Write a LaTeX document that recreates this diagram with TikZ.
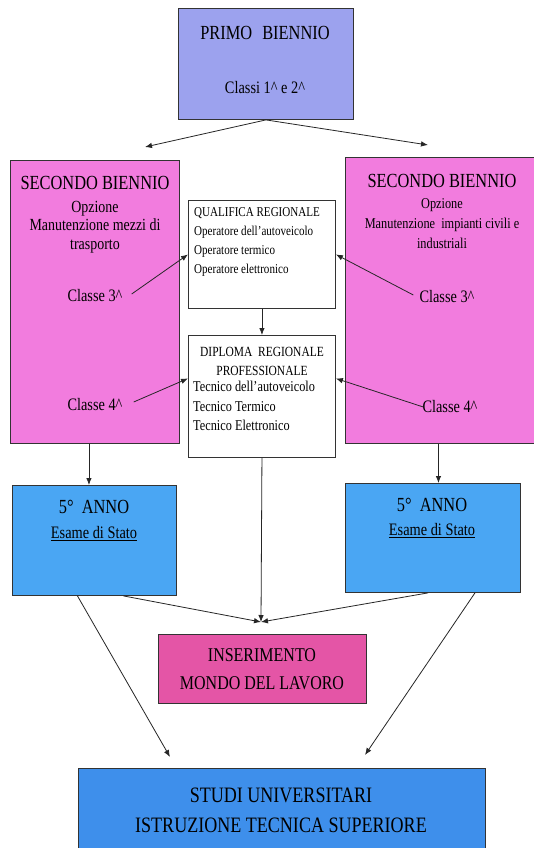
\documentclass[tikz,border=0pt]{standalone}
\usepackage{fontspec}
\setmainfont{Liberation Serif}
\newfontfamily\cond[FakeStretch=0.82]{Liberation Serif}
\usetikzlibrary{arrows.meta,positioning}
\definecolor{lav}{HTML}{9CA2EE}
\definecolor{pinkb}{HTML}{F27CDE}
\definecolor{bluea}{HTML}{4AA6F3}
\definecolor{pinki}{HTML}{E455A6}
\definecolor{blues}{HTML}{3E8FEB}
\definecolor{edge}{HTML}{333333}
\newcommand{\fs}[2]{\fontsize{#1}{#2}\selectfont}
\tikzset{
  box/.style={draw=edge,line width=0.9pt,anchor=north west,inner sep=0pt},
  txt/.style={inner sep=1pt,text=black},
  fz/.style 2 args={font=\cond\fs{#1}{#2}},
  arr/.style={draw=black!85,line width=0.8pt,-{Latex[length=7pt,width=5.5pt]}},
}
\begin{document}
\begin{tikzpicture}[x=1pt,y=-1pt]
\useasboundingbox[fill=white] (0,0) rectangle (533,848);
% boxes
\node[box,fill=lav,minimum width=175,minimum height=111] (prim) at (178,8) {};
\node[box,fill=pinkb,minimum width=169,minimum height=283] (sbl) at (10,160) {};
\node[box,fill=pinkb,minimum width=190,minimum height=286] (sbr) at (345,157) {};
\node[box,fill=white,minimum width=147,minimum height=108] (qual) at (188,200) {};
\node[box,fill=white,minimum width=147,minimum height=122] (dip) at (188,335) {};
\node[box,fill=bluea,minimum width=164,minimum height=110] (al) at (12,485) {};
\node[box,fill=bluea,minimum width=175,minimum height=109] (ar) at (345,483) {};
\node[box,fill=pinki,minimum width=208,minimum height=69] (ins) at (158,634) {};
\node[box,fill=blues,minimum width=407,minimum height=84] (stu) at (78,768) {};
% texts
\node[txt,fz={20}{22}] (t1) at (265,33) {PRIMO\hspace{0.5em}BIENNIO};
\node[txt,fz={17.5}{19}] (t2) at (265,88) {Classi 1\textasciicircum{} e 2\textasciicircum};
\node[txt,fz={20}{22}] (l1) at (95,183) {SECONDO BIENNIO};
\node[txt,fz={17}{18.5},align=center] (l2) at (95,227) {Opzione\\Manutenzione mezzi di\\trasporto};
\node[txt,fz={20}{22}] (r1) at (442,181) {SECONDO BIENNIO};
\node[txt,fz={15}{20},align=center] (r2) at (442,224) {Opzione\\Manutenzione\ \ impianti civili e\\industriali};
\node[txt,fz={17.5}{21}] (c3l) at (95,296) {Classe 3\textasciicircum};
\node[txt,fz={17.5}{21}] (c4l) at (95,405) {Classe 4\textasciicircum};
\node[txt,fz={17.5}{21}] (c3r) at (447,297) {Classe 3\textasciicircum};
\node[txt,fz={17.5}{21}] (c4r) at (450,407) {Classe 4\textasciicircum};
\node[txt,fz={13.5}{19},align=left,anchor=north west] (q1) at (193,206) {QUALIFICA REGIONALE\\Operatore dell’autoveicolo\\Operatore termico\\Operatore elettronico};
\node[txt,fz={14}{19},align=center] (d1) at (262,361) {DIPLOMA\ \ REGIONALE\\PROFESSIONALE};
\node[txt,fz={15}{19.5},align=left,anchor=north west] (d2) at (192,380) {Tecnico dell’autoveicolo\\Tecnico Termico\\Tecnico Elettronico};
\node[txt,fz={20}{22}] (a1) at (94,507) {5°\ \ ANNO};
\node[txt,fz={17.5}{18}] (a2) at (94,534) {\underline{Esame di Stato}};
\node[txt,fz={20}{22}] (b1) at (432,505) {5°\ \ ANNO};
\node[txt,fz={17.5}{18}] (b2) at (432,531) {\underline{Esame di Stato}};
\node[txt,fz={19.5}{28},align=center] (i1) at (262,669) {INSERIMENTO\\MONDO DEL LAVORO};
\node[txt,fz={22}{30},align=center] (s1) at (281,810) {STUDI UNIVERSITARI\\ISTRUZIONE TECNICA SUPERIORE};
% coordinates
\coordinate (pl) at (145,147);
\coordinate (pr) at (428,145);
\coordinate (conv) at (261,622);
\coordinate (sl) at (170,757);
\coordinate (sr) at (365,755);
% connectors
\draw[arr] (prim.south) -- (pl);
\draw[arr] (prim.south) -- (pr);
\draw[arr] ([xshift=8pt,yshift=2pt]c3l.east) -- (qual.west);
\draw[arr] ([xshift=10pt,yshift=3pt]c4l.east) -- ([yshift=18pt]dip.west);
\draw[arr] ([xshift=-5pt,yshift=2pt]c3r.west) -- (qual.east);
\draw[arr] ([xshift=2pt]c4r.west) -- ([yshift=18pt]dip.east);
\draw[arr] (qual.south) -- (dip.north);
\draw[arr] ([xshift=-6pt]sbl.south) -- ([xshift=-6pt]sbl.south |- al.north);
\draw[arr] ([xshift=-2pt]sbr.south) -- ([xshift=-2pt]sbr.south |- ar.north);
\draw[arr] (dip.south) -- (conv);
\draw[arr] ([xshift=29pt]al.south) -- (conv);
\draw[arr] ([xshift=-5pt]ar.south) -- (conv);
\draw[arr] ([xshift=-17pt]al.south) -- (sl);
\draw[arr] ([xshift=42pt]ar.south) -- (sr);
\end{tikzpicture}
\end{document}
